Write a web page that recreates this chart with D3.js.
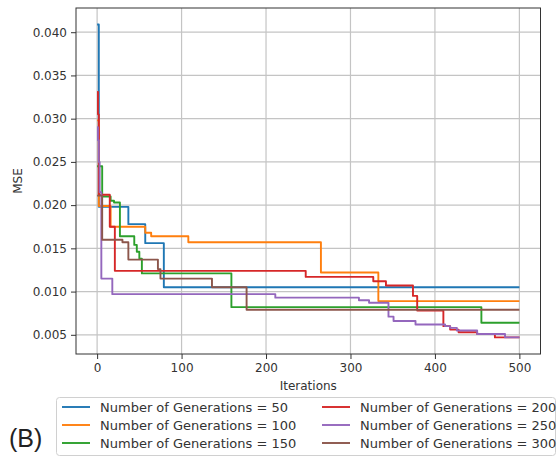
<!DOCTYPE html>
<html>
<head>
<meta charset="utf-8">
<script src="https://cdn.jsdelivr.net/npm/d3@7.9.0/dist/d3.min.js"></script>
<style>
  html, body { margin: 0; padding: 0; background: #fff; }
  svg { display: block; font-family: "DejaVu Sans", sans-serif; }
</style>
</head>
<body>
<div id="chart"></div>
<script>
// ---- data: step breakpoints [iteration, MSE], value holds until next breakpoint ----
const gen50 = [[0, 0.0409], [2, 0.0198], [37, 0.0178], [57, 0.0156], [79, 0.0105], [500, 0.0105]];
const gen100 = [[0, 0.0298], [2, 0.0199], [16, 0.0175], [57, 0.0168], [64, 0.0164], [108, 0.0157],
  [265, 0.0122], [333, 0.0089], [500, 0.0089]];
const gen150 = [[0, 0.0245], [6, 0.0210], [16, 0.0205], [20, 0.0203], [27, 0.0164], [44, 0.0154],
  [47, 0.0146], [50, 0.0138], [53, 0.0121], [159, 0.0082], [455, 0.0064], [500, 0.0064]];
const gen200 = [[0, 0.0331], [1, 0.0305], [2, 0.0212], [15, 0.0175], [21, 0.0124], [247, 0.0117],
  [327, 0.0112], [342, 0.0107], [374, 0.0095], [379, 0.0078], [410, 0.0060], [418, 0.0056],
  [428, 0.0053], [450, 0.0051], [471, 0.0047], [500, 0.0047]];
const gen250 = [[0, 0.0290], [1, 0.0275], [2, 0.0250], [3, 0.0215], [5, 0.0115], [18, 0.0097],
  [211, 0.0093], [310, 0.0090], [322, 0.0087], [345, 0.0071], [351, 0.0066], [377, 0.0062],
  [412, 0.0060], [418, 0.0058], [426, 0.0055], [450, 0.0051], [483, 0.0047], [500, 0.0047]];
const gen300 = [[0, 0.0211], [6, 0.0160], [30, 0.0157], [37, 0.0137], [72, 0.0126], [75, 0.0115],
  [136, 0.0105], [177, 0.0079], [500, 0.0079]];

const seriesNames = ['Number of Generations = 50', 'Number of Generations = 100', 'Number of Generations = 150',
  'Number of Generations = 200', 'Number of Generations = 250', 'Number of Generations = 300'];
const seriesValues = [gen50, gen100, gen150, gen200, gen250, gen300];
const colors = ['#1f77b4', '#ff7f0e', '#2ca02c', '#d62728', '#9467bd', '#8c564b'];

const xTicks = [0, 100, 200, 300, 400, 500];
const yTicks = [0.005, 0.010, 0.015, 0.020, 0.025, 0.030, 0.035, 0.040];

// ---- layout ----
const width = 557, height = 459;
const plot = { left: 76, right: 540.5, top: 8, bottom: 354 };

const svg = d3.select('#chart').append('svg')
  .attr('width', width).attr('height', height);

const x = d3.scaleLinear().domain([-25, 525]).range([plot.left, plot.right]);
const y = d3.scaleLinear().domain([0.00278, 0.0428]).range([plot.bottom, plot.top]);

// gridlines
const grid = svg.append('g').attr('stroke', '#c4c4c4').attr('stroke-width', 1.2);
grid.selectAll('line.gx').data(xTicks).join('line')
  .attr('x1', d => x(d)).attr('x2', d => x(d))
  .attr('y1', plot.top).attr('y2', plot.bottom);
grid.selectAll('line.gy').data(yTicks).join('line')
  .attr('y1', d => y(d)).attr('y2', d => y(d))
  .attr('x1', plot.left).attr('x2', plot.right);

// series
const line = d3.line()
  .x(d => x(d[0]))
  .y(d => y(d[1]))
  .curve(d3.curveStepAfter);

svg.append('g').selectAll('path').data(seriesValues).join('path')
  .attr('d', line)
  .attr('fill', 'none')
  .attr('stroke', (d, i) => colors[i])
  .attr('stroke-width', 1.9)
  .attr('stroke-linejoin', 'round');

// axes
const xAxis = svg.append('g')
  .attr('transform', `translate(0,${plot.bottom})`)
  .call(d3.axisBottom(x).tickValues(xTicks).tickSize(5).tickPadding(4));
const yAxis = svg.append('g')
  .attr('transform', `translate(${plot.left},0)`)
  .call(d3.axisLeft(y).tickValues(yTicks).tickFormat(d3.format('.3f')).tickSize(5).tickPadding(4));

[xAxis, yAxis].forEach(ax => {
  ax.select('.domain').remove();
  ax.selectAll('line').attr('stroke', '#333');
  ax.selectAll('text').attr('fill', '#333').style('font-size', '12px')
    .style('font-family', '"DejaVu Sans", sans-serif');
});

// frame
svg.append('rect')
  .attr('x', plot.left).attr('y', plot.top)
  .attr('width', plot.right - plot.left).attr('height', plot.bottom - plot.top)
  .attr('fill', 'none').attr('stroke', '#333').attr('stroke-width', 1);

// axis labels
svg.append('text')
  .attr('x', (plot.left + plot.right) / 2).attr('y', 390)
  .attr('text-anchor', 'middle').attr('fill', '#333').style('font-size', '12px')
  .text('Iterations');
svg.append('text')
  .attr('transform', `translate(22,${(plot.top + plot.bottom) / 2}) rotate(-90)`)
  .attr('text-anchor', 'middle').attr('fill', '#333').style('font-size', '12px')
  .text('MSE');

// legend
const legend = svg.append('g');
legend.append('rect')
  .attr('x', 56.5).attr('y', 397.5).attr('width', 499).attr('height', 58)
  .attr('rx', 3).attr('fill', '#fff').attr('stroke', '#d0d0d0');

const legendItems = legend.selectAll('g.item').data(seriesNames).join('g')
  .attr('transform', (d, i) => `translate(${i < 3 ? 62 : 322},${407 + (i % 3) * 18})`);
legendItems.append('line')
  .attr('x1', 0).attr('x2', 28).attr('y1', 0).attr('y2', 0)
  .attr('stroke', (d, i) => colors[i]).attr('stroke-width', 1.9);
legendItems.append('text')
  .attr('x', 38).attr('y', 0).attr('dy', '0.35em')
  .attr('fill', '#333').style('font-size', '13px')
  .text(d => d);

// panel label
svg.append('text')
  .attr('x', 9).attr('y', 447)
  .attr('fill', '#222')
  .style('font-family', '"Liberation Sans", Arial, sans-serif')
  .style('font-size', '25px')
  .text('(B)');
</script>
</body>
</html>
